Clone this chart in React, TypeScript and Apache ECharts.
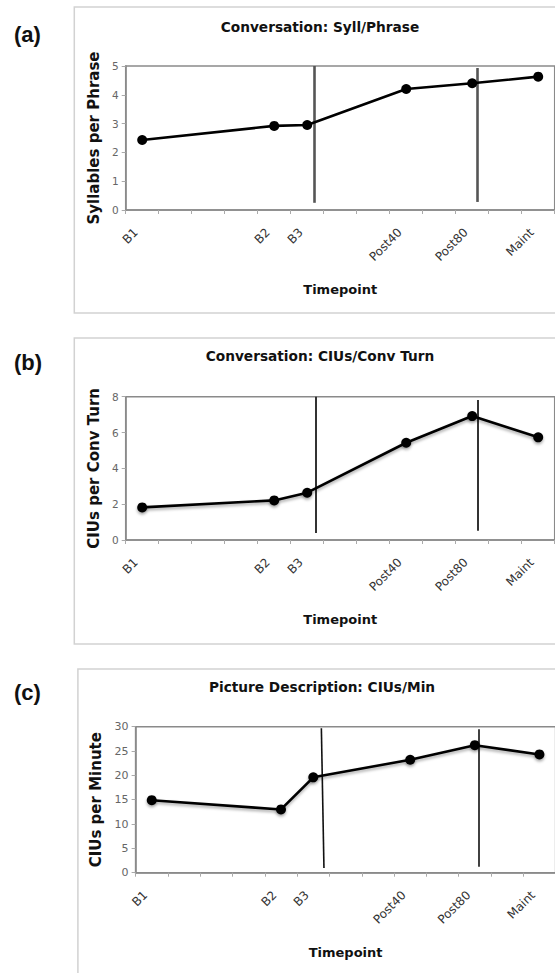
import React, { useEffect, useRef } from "react";
import * as echarts from "echarts";

// ---- data ----
const timepointLabels = ["B1", "B2", "B3", "Post40", "Post80", "Maint"];
// position of each timepoint on the 13-slot time axis (slot centres)
const timepointPos = [0.5, 4.5, 5.5, 8.5, 10.5, 12.5];

const syllPerPhrase = [2.43, 2.92, 2.95, 4.2, 4.4, 4.63];
const ciusPerTurn = [1.82, 2.21, 2.64, 5.43, 6.92, 5.73];
const ciusPerMin = [14.9, 13.0, 19.6, 23.2, 26.2, 24.3];

// phase-change lines: [x1, y1, x2, y2] in data units
const phaseLinesA = [
  [5.72, 0.25, 5.72, 5.0],
  [10.64, 0.28, 10.64, 4.93],
];
const phaseLinesB = [
  [5.77, 0.39, 5.77, 8.0],
  [10.67, 0.52, 10.67, 7.81],
];
const phaseLinesC = [
  [5.83, 0.97, 5.75, 29.7],
  [10.63, 1.2, 10.63, 29.5],
];

const panelTitles = [
  "Conversation: Syll/Phrase",
  "Conversation: CIUs/Conv Turn",
  "Picture Description: CIUs/Min",
];
const yNames = ["Syllables per Phrase", "CIUs per Conv Turn", "CIUs per Minute"];
const panelTags = ["(a)", "(b)", "(c)"];
const yMax = [5, 8, 30];
const yStep = [1, 2, 5];

const FONT = "'DejaVu Sans', Verdana, sans-serif";

export default function App() {
  const ref = useRef<HTMLDivElement>(null);

  useEffect(() => {
    if (!ref.current) return;
    const chart = echarts.init(ref.current, null, { renderer: "svg" });

    const grids = [
      { left: 125.7, top: 66, width: 429, height: 144 },
      { left: 125.7, top: 396.7, width: 429, height: 143.3 },
      { left: 135.6, top: 726.7, width: 420, height: 146 },
    ];
    const boxes = [
      { x: 74.3, y: 7, w: 500, h: 306 },
      { x: 74.3, y: 338, w: 500, h: 306 },
      { x: 77.9, y: 669, w: 500, h: 330 },
    ];
    const tagY = [34, 362, 692];
    const titlePos = [
      [320, 27],
      [320, 356],
      [322, 687],
    ];
    const yNameGap = [21, 21, 27];
    const phase = [phaseLinesA, phaseLinesB, phaseLinesC];
    const phaseStyle = [
      { color: "#555", width: 2.6 },
      { color: "#333", width: 2 },
      { color: "#111", width: 1.6 },
    ];
    const values = [syllPerPhrase, ciusPerTurn, ciusPerMin];

    const graphic: any[] = [];
    boxes.forEach((b, i) => {
      graphic.push({
        type: "rect",
        silent: true,
        shape: { x: b.x, y: b.y, width: b.w, height: b.h },
        style: { fill: "none", stroke: "#d2d2d2", lineWidth: 1.5 },
        z: -10,
      });
      graphic.push({
        type: "text",
        x: 14,
        y: tagY[i],
        style: {
          text: panelTags[i],
          fill: "#111",
          font: "bold 22px 'Liberation Sans', Arial, sans-serif",
          align: "left",
          verticalAlign: "middle",
          textAlign: "left",
          textVerticalAlign: "middle",
        },
      });
      graphic.push({
        type: "text",
        x: titlePos[i][0],
        y: titlePos[i][1],
        style: {
          text: panelTitles[i],
          fill: "#111",
          font: `bold 13.7px ${FONT}`,
          align: "center",
          verticalAlign: "middle",
          textAlign: "center",
          textVerticalAlign: "middle",
        },
      });
    });

    const option: any = {
      animation: false,
      backgroundColor: "#ffffff",
      graphic,
      grid: grids.map((g) => ({
        ...g,
        show: true,
        borderColor: "#8a8a8a",
        borderWidth: 1.5,
        backgroundColor: "transparent",
        containLabel: false,
        outerBoundsMode: "none",
      })),
      xAxis: grids.map((_, i) => ({
        type: "value",
        gridIndex: i,
        min: 0,
        max: 13,
        interval: 1,
        name: "Timepoint",
        nameLocation: "middle",
        nameGap: 73,
        nameMoveOverlap: false,
        nameTextStyle: { fontFamily: FONT, fontWeight: "bold", fontSize: 13, color: "#111" },
        axisLine: { show: true, onZero: false, lineStyle: { color: "#8a8a8a", width: 1.5 } },
        axisTick: { show: true, length: 4, inside: false, lineStyle: { color: "#aaaaaa", width: 1 } },
        splitLine: { show: false },
        axisLabel: {
          customValues: timepointPos,
          formatter: (v: number) => {
            const k = timepointPos.findIndex((p) => Math.abs(p - v) < 1e-6);
            return k >= 0 ? timepointLabels[k] : "";
          },
          rotate: 45,
          margin: 14,
          padding: [0, 9, 0, 0],
          fontFamily: FONT,
          fontSize: 12,
          color: "#333",
        },
      })),
      yAxis: grids.map((_, i) => ({
        type: "value",
        gridIndex: i,
        min: 0,
        max: yMax[i],
        interval: yStep[i],
        name: yNames[i],
        nameLocation: "middle",
        nameGap: yNameGap[i],
        nameTextStyle: { fontFamily: FONT, fontWeight: "bold", fontSize: 15, color: "#111" },
        axisLine: { show: true, lineStyle: { color: "#8a8a8a", width: 1.5 } },
        axisTick: { show: true, length: 4, lineStyle: { color: "#aaaaaa", width: 1 } },
        splitLine: { show: false },
        axisLabel: {
          margin: 7,
          fontFamily: FONT,
          fontSize: i === 2 ? 11 : 10.5,
          color: "#666",
        },
      })),
      series: values.map((vals, i) => ({
        type: "line",
        xAxisIndex: i,
        yAxisIndex: i,
        data: timepointPos.map((x, j) => [x, vals[j]]),
        symbol: "circle",
        symbolSize: 10,
        z: 5,
        itemStyle: {
          color: "#000",
          shadowColor: i > 0 ? "rgba(0,0,0,0.35)" : "transparent",
          shadowBlur: i > 0 ? 3 : 0,
          shadowOffsetY: i > 0 ? 2 : 0,
        },
        lineStyle: {
          color: "#000",
          width: 2.6,
          shadowColor: i > 0 ? "rgba(0,0,0,0.35)" : "transparent",
          shadowBlur: i > 0 ? 3 : 0,
          shadowOffsetY: i > 0 ? 2 : 0,
        },
        markLine: {
          silent: true,
          symbol: ["none", "none"],
          label: { show: false },
          lineStyle: { ...phaseStyle[i], type: "solid" },
          data: phase[i].map((l) => [
            { coord: [l[0], l[1]] },
            { coord: [l[2], l[3]] },
          ]),
        },
      })),
    };

    chart.setOption(option);
    return () => chart.dispose();
  }, []);

  return (
    <div
      ref={ref}
      style={{ position: "absolute", left: 0, top: 0, width: 555, height: 973 }}
    />
  );
}
